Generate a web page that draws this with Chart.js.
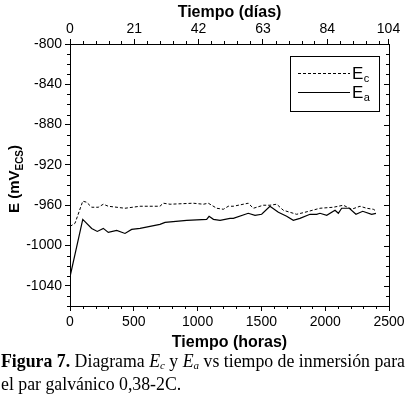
<!DOCTYPE html>
<html>
<head>
<meta charset="utf-8">
<script src="https://cdn.jsdelivr.net/npm/chart.js@4/dist/chart.umd.min.js"></script>
<style>
  body { margin: 0; background: #fff; }
  #wrap { position: relative; width: 414px; height: 399px; }
  #caption {
    position: absolute; left: 1px; top: 352px;
    font-family: "Liberation Serif", "Times New Roman", serif;
    font-size: 17.8px; line-height: 19px; color: #000; white-space: nowrap;
  }
  #caption sub { font-size: 11px; vertical-align: -2px; }
</style>
</head>
<body>
<div id="wrap">
  <canvas id="chartPotencial" width="414" height="356"></canvas>
  <div id="caption"><b>Figura 7.</b> Diagrama <i>E<sub>c</sub></i> y <i>E<sub>a</sub></i> vs tiempo de inmersión para<br>el par galvánico 0,38-2C.</div>
</div>
<script>
// tiempo en horas y potencial en mV (ECS)
var horasEc = [0, 39, 100, 130, 170, 222, 261, 300, 431, 549, 705, 731, 784, 966, 1045, 1084, 1150, 1202, 1241, 1280, 1397, 1437, 1515, 1567, 1620, 1672, 1776, 1841, 1959, 2064, 2142, 2207, 2273, 2325, 2377, 2390];
var valoresEc = [-981, -978, -956, -957, -962, -962, -959, -961, -963, -961, -961, -958, -959, -958, -959, -958, -963, -964, -961, -961, -958, -963, -960, -960, -959, -965, -969, -967, -963, -962, -960, -964, -961, -963, -964, -965];

var horasEa = [0, 100, 170, 214, 261, 300, 366, 431, 483, 549, 705, 745, 915, 1071, 1090, 1124, 1176, 1254, 1280, 1397, 1450, 1502, 1567, 1633, 1698, 1750, 1802, 1881, 1933, 1959, 2012, 2077, 2103, 2129, 2189, 2241, 2294, 2364, 2398];
var valoresEa = [-1031, -974, -983, -986, -983, -987, -985, -988, -984, -983, -979, -977, -975, -974, -971, -974, -975, -973, -973, -968, -970, -969, -961, -967, -971, -975, -973, -969, -969, -968, -970, -965, -968, -963, -963, -969, -966, -969, -968];

var ticksHoras = [0, 500, 1000, 1500, 2000, 2500];
var ticksDias = [0, 21, 42, 63, 84, 104];
var ticksE = [-1040, -1000, -960, -920, -880, -840, -800];

function puntos(xs, ys) {
    var out = [];
    for (var i = 0; i < xs.length; i++) out.push({x: xs[i], y: ys[i]});
    return out;
}

var fuente = "'Liberation Sans', Arial, sans-serif";

// marcas menores, marco derecho, leyenda y titulo del eje y
var marcoPlugin = {
    id: 'marco',
    afterDraw: function(chart) {
        var ctx = chart.ctx;
        var a = chart.chartArea;
        var sx = chart.scales.x, sx2 = chart.scales.x2, sy = chart.scales.y;
        ctx.save();
        ctx.strokeStyle = '#000';
        ctx.lineWidth = 1;
        ctx.beginPath();
        // borde derecho
        ctx.moveTo(Math.round(a.right) + 0.5, a.top);
        ctx.lineTo(Math.round(a.right) + 0.5, a.bottom);
        var v, p;
        for (v = -1060; v <= -800; v += 10) {
            p = Math.round(sy.getPixelForValue(v)) + 0.5;
            var mayor = ticksE.indexOf(v) >= 0;
            if (!mayor) {
                ctx.moveTo(a.left, p); ctx.lineTo(a.left - 3, p);
            }
            ctx.moveTo(a.right, p); ctx.lineTo(a.right - (mayor ? 5 : 3), p);
        }
        for (v = 100; v < 2500; v += 100) {
            if (v % 500 === 0) continue;
            p = Math.round(sx.getPixelForValue(v)) + 0.5;
            ctx.moveTo(p, a.bottom); ctx.lineTo(p, a.bottom + 3);
        }
        for (var i = 0; i < ticksDias.length - 1; i++) {
            for (var k = 1; k < 5; k++) {
                v = ticksDias[i] + k * 4.2;
                p = Math.round(sx2.getPixelForValue(v)) + 0.5;
                ctx.moveTo(p, a.top); ctx.lineTo(p, a.top - 3);
            }
        }
        ctx.stroke();

        // leyenda
        var bx = 290.5, by = 56.5, bw = 89, bh = 55;
        ctx.strokeRect(bx, by, bw, bh);
        var ds = chart.data.datasets;
        var filas = [73, 92];
        for (var j = 0; j < ds.length; j++) {
            var yy = filas[j] + 0.5;
            ctx.beginPath();
            ctx.setLineDash(ds[j].borderDash || []);
            ctx.lineWidth = ds[j].borderWidth;
            ctx.moveTo(298, yy); ctx.lineTo(350, yy);
            ctx.stroke();
            ctx.setLineDash([]);
            ctx.fillStyle = '#000';
            ctx.textBaseline = 'alphabetic';
            ctx.textAlign = 'left';
            ctx.font = '17px ' + fuente;
            ctx.fillText(ds[j].simbolo, 352, filas[j] + 6);
            var w = ctx.measureText(ds[j].simbolo).width;
            ctx.font = '11px ' + fuente;
            ctx.fillText(ds[j].sub, 352 + w + 0.5, filas[j] + 9);
        }

        // titulo eje y: E (mV_ECS)
        ctx.save();
        ctx.translate(19, 179);
        ctx.rotate(-Math.PI / 2);
        ctx.fillStyle = '#000';
        ctx.textBaseline = 'alphabetic';
        var partes = [['E (mV', 'bold 15px ' + fuente, 0], ['ECS', 'bold 10px ' + fuente, 4], [')', 'bold 15px ' + fuente, 0]];
        var total = 0;
        partes.forEach(function(pt) { ctx.font = pt[1]; total += ctx.measureText(pt[0]).width; });
        var xx = -total / 2;
        partes.forEach(function(pt) {
            ctx.font = pt[1];
            ctx.fillText(pt[0], xx, pt[2]);
            xx += ctx.measureText(pt[0]).width;
        });
        ctx.restore();
        ctx.restore();
    }
};

var ejeComun = {
    grid: { display: true, drawOnChartArea: false, drawTicks: true, tickLength: 5, color: '#000', tickColor: '#000' },
    border: { display: true, color: '#000', width: 1 }
};

function sinSeparador(v) { return String(v); }

window.chartPotencial = new Chart(document.getElementById('chartPotencial'), {
    type: 'line',
    data: {
        datasets: [{
            label: 'Ec',
            simbolo: 'E', sub: 'c',
            data: puntos(horasEc, valoresEc),
            borderColor: '#000',
            borderWidth: 1,
            borderDash: [3, 2],
            pointRadius: 0,
            tension: 0,
            fill: false
        }, {
            label: 'Ea',
            simbolo: 'E', sub: 'a',
            data: puntos(horasEa, valoresEa),
            borderColor: '#000',
            borderWidth: 1.2,
            pointRadius: 0,
            tension: 0,
            fill: false
        }]
    },
    options: {
        responsive: false,
        animation: false,
        layout: { padding: { right: 25 } },
        plugins: { legend: { display: false }, tooltip: { enabled: false } },
        scales: {
            x: Object.assign({}, ejeComun, {
                type: 'linear', position: 'bottom', min: 0, max: 2500,
                afterBuildTicks: function(s) { s.ticks = ticksHoras.map(function(v) { return {value: v}; }); },
                afterFit: function(s) { s.height = 50; },
                ticks: { color: '#000', font: { family: fuente, size: 14 }, padding: 3, maxRotation: 0, callback: sinSeparador },
                title: { display: true, text: 'Tiempo (horas)', color: '#000', font: { family: fuente, size: 16, weight: 'bold' }, padding: 4 }
            }),
            x2: Object.assign({}, ejeComun, {
                type: 'linear', position: 'top', min: 0, max: 2500 / 24,
                afterBuildTicks: function(s) { s.ticks = ticksDias.map(function(v) { return {value: v}; }); },
                afterFit: function(s) { s.height = 44; },
                ticks: { color: '#000', font: { family: fuente, size: 14 }, padding: 1, maxRotation: 0, callback: sinSeparador },
                title: { display: true, text: 'Tiempo (días)', color: '#000', font: { family: fuente, size: 16, weight: 'bold' }, padding: 3 }
            }),
            y: Object.assign({}, ejeComun, {
                type: 'linear', position: 'left', min: -1060, max: -800,
                afterBuildTicks: function(s) { s.ticks = ticksE.map(function(v) { return {value: v}; }); },
                afterFit: function(s) { s.width = 70; },
                ticks: { color: '#000', font: { family: fuente, size: 14 }, padding: 3, callback: sinSeparador }
            })
        }
    },
    plugins: [marcoPlugin]
});
</script>
</body>
</html>
